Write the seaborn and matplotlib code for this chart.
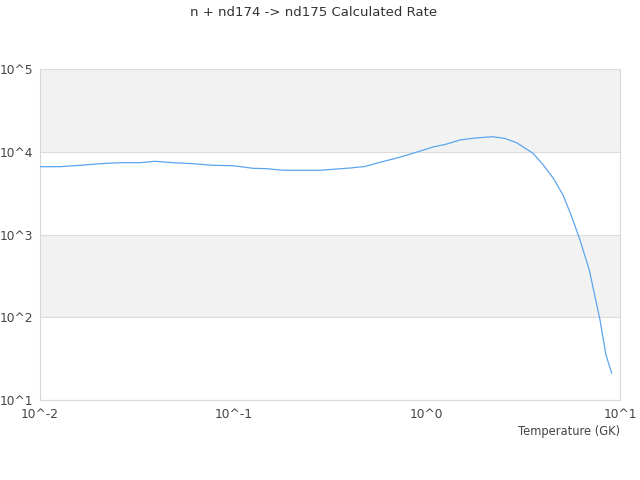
import matplotlib
matplotlib.use("Agg")
import matplotlib.pyplot as plt
import seaborn as sns
import pandas as pd
import numpy as np
from matplotlib.ticker import FixedLocator, FixedFormatter

title = "n + nd174 -> nd175 Calculated Rate"
x_label = "Temperature (GK)"
temperature = [0.0100, 0.01269, 0.01610, 0.02043, 0.02593, 0.03291, 0.03934, 0.04874,
               0.06184, 0.07848, 0.0996, 0.1264, 0.1493, 0.1806, 0.2807, 0.4013,
               0.4797, 0.5736, 0.6858, 0.8497, 1.078, 1.244, 1.487, 1.778, 2.204,
               2.542, 2.922, 3.548, 4.012, 4.520, 5.073, 5.625, 6.211, 6.938, 7.881,
               8.465, 9.063]
rate = [6600, 6600, 6860, 7170, 7375, 7375, 7665, 7375,
        7170, 6860, 6781, 6310, 6240, 5970, 5970, 6360,
        6635, 7457, 8286, 9578, 11410, 12240, 13870, 14660, 15200,
        14460, 12860, 9578, 6917, 4777, 3002, 1641, 858, 372, 92.6,
        35.0, 21.0]
x_ticks = [0.01, 0.1, 1, 10]
x_tick_labels = ["10^-2", "10^-1", "10^0", "10^1"]
y_ticks = [10, 100, 1000, 10000, 100000]
y_tick_labels = ["10^1", "10^2", "10^3", "10^4", "10^5"]

sns.set_style("white")
plt.rcParams["font.family"] = ["DejaVu Sans"]

df = pd.DataFrame({"T": temperature, "rate": rate})

fig = plt.figure(figsize=(6.4, 4.8), dpi=100)
ax = fig.add_axes([40/640, 1-400/480, 580/640, 331/480])

# alternating bands
for i in range(len(y_ticks) - 1):
    if i % 2 == 1:
        ax.axhspan(y_ticks[i], y_ticks[i + 1], color="#f2f2f2", zorder=0, lw=0)
for yt in y_ticks:
    ax.axhline(yt, color="#dcdcdc", lw=0.8, zorder=1)

sns.lineplot(data=df, x="T", y="rate", ax=ax, color="#5da5ee", lw=0.9, zorder=3)

ax.set_xscale("log")
ax.set_yscale("log")
ax.set_xlim(0.01, 10)
ax.set_ylim(10, 100000)
ax.xaxis.set_major_locator(FixedLocator(x_ticks))
ax.xaxis.set_major_formatter(FixedFormatter(x_tick_labels))
ax.yaxis.set_major_locator(FixedLocator(y_ticks))
ax.yaxis.set_major_formatter(FixedFormatter(y_tick_labels))
ax.xaxis.set_minor_locator(FixedLocator([]))
ax.yaxis.set_minor_locator(FixedLocator([]))
ax.tick_params(axis="both", length=0, labelsize=8.8, colors="#444444")
ax.tick_params(axis="x", pad=6)
ax.tick_params(axis="y", pad=5)
ax.set_xlabel("")
ax.set_ylabel("")
for s in ["left", "right", "bottom"]:
    ax.spines[s].set_color("#d8d8d8")
    ax.spines[s].set_linewidth(0.8)
ax.spines["top"].set_visible(False)

fig.text(620/640, 1-431/480, x_label, ha="right", va="center", fontsize=8.3, color="#444444")
fig.text(314/640, 1-12/480, title, ha="center", va="center", fontsize=9.5, color="#333333")

fig.savefig("out.png", dpi=100)
